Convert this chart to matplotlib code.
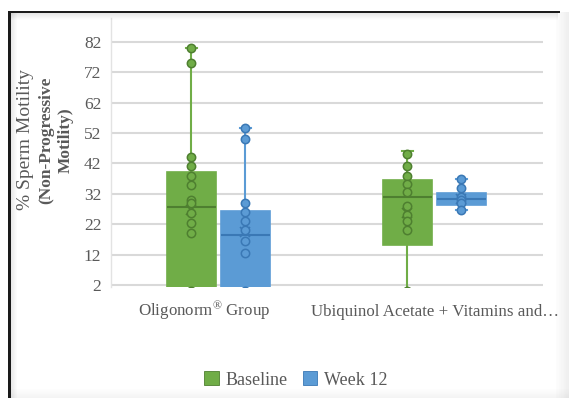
import matplotlib
matplotlib.use("Agg")
import matplotlib.pyplot as plt
import matplotlib.transforms as mtransforms
from matplotlib.patches import Rectangle
import numpy as np

plt.rcParams['font.family'] = ['Liberation Serif', 'DejaVu Serif']
plt.rcParams['mathtext.fontset'] = 'custom'
plt.rcParams['mathtext.rm'] = 'Liberation Serif'
plt.rcParams['mathtext.it'] = 'Liberation Serif:italic'

categories = ["Oligonorm$^{\\mathrm{\u00ae}}$ Group", "Ubiquinol Acetate + Vitamins and\u2026"]
series = ["Baseline", "Week 12"]
face_colors = ["#70AD47", "#5B9BD5"]
dark_colors = ["#4E7F30", "#3A78B5"]

# Box statistics for each category (Oligonorm, Ubiquinol)
baseline_q1 = [0.0, 15.0]
baseline_median = [27.5, 30.8]
baseline_q3 = [39.3, 36.5]
baseline_low = [0.0, 0.0]
baseline_high = [80.0, 46.0]
baseline_mean = [26.7, 25.6]
baseline_points = [
    [80, 75, 44, 41, 38, 35, 30, 28.8, 25.6, 22.4, 19.2, 0],
    [45, 41, 38, 35.3, 32.5, 28, 25, 23.2, 20, 0],
]

week12_q1 = [0.0, 28.3]
week12_median = [18.5, 30.3]
week12_q3 = [26.3, 32.2]
week12_low = [0.0, 26.5]
week12_high = [53.5, 37.0]
week12_mean = [19.5, 30.3]
week12_points = [
    [53.5, 50, 28.9, 26, 23.2, 20, 16.5, 12.6, 0],
    [37, 34, 31, 30, 29, 26.5],
]

y_ticks = [2, 12, 22, 32, 42, 52, 62, 72, 82]

W, H = 569, 398
fig = plt.figure(figsize=(W / 100, H / 100), dpi=100)
fig.patch.set_facecolor("white")

ax = fig.add_axes([111 / W, 1 - 287.4 / H, (543 - 111) / W, (287.4 - 18) / H])
ax.set_facecolor("white")
ax.set_xlim(-0.5, 1.5)
ax.set_ylim(1.2, 89.8)
ax.set_axisbelow(True)
ax.yaxis.grid(True, color="#D9D9D9", linewidth=1.5)
ax.set_yticks(y_ticks)
for s in ["top", "right", "bottom"]:
    ax.spines[s].set_visible(False)
ax.spines["left"].set_color("#E3E3E3")
ax.spines["left"].set_linewidth(1.0)
ax.tick_params(axis="both", length=0, labelsize=12.5, labelcolor="#595959")
ax.tick_params(axis="y", pad=7)
ax.tick_params(axis="x", pad=12, labelsize=12.2)

offsets = [-0.128, 0.122]
box_width = 0.23
all_stats = [
    (baseline_q1, baseline_median, baseline_q3, baseline_low, baseline_high, baseline_mean, baseline_points),
    (week12_q1, week12_median, week12_q3, week12_low, week12_high, week12_mean, week12_points),
]

for si, (q1, med, q3, lo, hi, mean, pts) in enumerate(all_stats):
    fc, dc = face_colors[si], dark_colors[si]
    stats = []
    for ci in range(len(categories)):
        stats.append(dict(q1=q1[ci], med=med[ci], q3=q3[ci], whislo=lo[ci],
                          whishi=hi[ci], mean=mean[ci], fliers=[]))
    positions = [ci + offsets[si] for ci in range(len(categories))]
    ax.bxp(stats, positions=positions, widths=box_width, patch_artist=True,
           showmeans=True, showfliers=False, capwidths=0.05,
           boxprops=dict(facecolor=fc, edgecolor=fc, linewidth=1.2),
           medianprops=dict(color=dc, linewidth=1.5),
           whiskerprops=dict(color=fc, linewidth=1.5),
           capprops=dict(color=fc, linewidth=1.5),
           meanprops=dict(marker="x", markeredgecolor=dc, markersize=7,
                          markeredgewidth=1.2, linestyle="none"),
           manage_ticks=False, zorder=2)
    for ci, p in enumerate(positions):
        vals = np.asarray(pts[ci], dtype=float)
        ax.plot(np.full(vals.size, p), vals, "o", markersize=6,
                markerfacecolor=fc, markeredgecolor=dc, markeredgewidth=1.1,
                zorder=3, clip_on=True)

ax.set_xticks(range(len(categories)))
ax.set_xticklabels(categories, color="#595959")
lbl0 = ax.get_xticklabels()[0]
lbl0.set_transform(lbl0.get_transform() +
                   mtransforms.ScaledTranslation(-0.15, 0.045, fig.dpi_scale_trans))

# Y axis title in three lines
yc = 1 - 140 / H
fig.text(25 / W, yc, "% Sperm Motility", rotation=90, ha="center", va="center",
         fontsize=14, color="#595959")
fig.text(46 / W, yc, "(Non-Progressive", rotation=90, ha="center", va="center",
         fontsize=12.5, color="#595959", fontweight="bold")
fig.text(66 / W, yc, "Motility)", rotation=90, ha="center", va="center",
         fontsize=12.5, color="#595959", fontweight="bold")

# Legend
handles = [Rectangle((0, 0), 1, 1, facecolor=face_colors[i], edgecolor=dark_colors[i],
                     linewidth=0.6) for i in range(len(series))]
fig.legend(handles, series, loc="center", bbox_to_anchor=(296 / W, 1 - 380 / H),
           ncol=2, frameon=False, fontsize=13, handlelength=0.8, handleheight=0.8,
           handletextpad=0.4, columnspacing=0.8, labelcolor="#595959")

# Frame with a dark top/left edge and soft shading
def frect(x0, y0, x1, y1, color, alpha=1.0):
    fig.patches.append(Rectangle((x0 / W, 1 - y1 / H), (x1 - x0) / W, (y1 - y0) / H,
                                 transform=fig.transFigure, facecolor=color,
                                 edgecolor="none", alpha=alpha, zorder=10))

for k in range(7):
    a = 0.10 * (1 - k / 7)
    frect(10 + k, 13, 11 + k, 398, "black", a)
    frect(10, 13 + k, 558, 14 + k, "black", a)
for k in range(10):
    a = 0.03 + 0.02 * k
    frect(556 + k * 1.3, 12, 557.3 + k * 1.3, 398, "#808080", a * 0.6)
    frect(10, 389 + k * 0.9, 569, 389.9 + k * 0.9, "#808080", a * 0.4)
frect(7.5, 11, 10.5, 398, "#1a1a1a")
frect(7.5, 10.5, 560, 13, "#1a1a1a")

fig.savefig("out.png", dpi=100)
